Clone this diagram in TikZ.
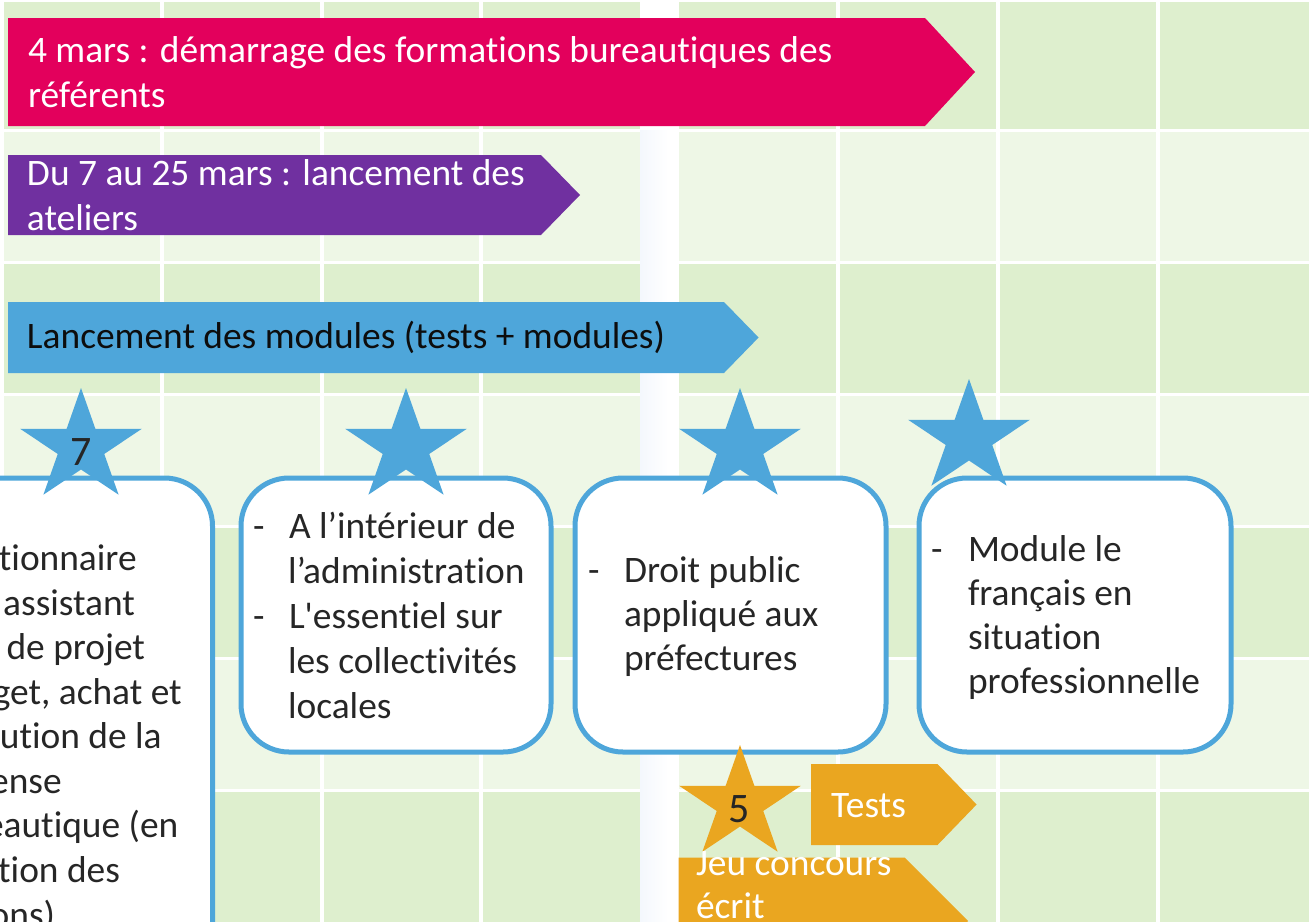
\documentclass[tikz,border=0pt]{standalone}
\usepackage{fontspec}
\newfontfamily\calfont{Carlito}[Ligatures=NoCommon]
\definecolor{pinkc}{HTML}{E3005C}
\definecolor{purplec}{HTML}{7030A0}
\definecolor{bluec}{HTML}{4EA6DA}
\definecolor{orangec}{HTML}{EAA620}
\definecolor{gdark}{HTML}{DEEFCE}
\definecolor{glight}{HTML}{EEF7E6}
\definecolor{txt}{HTML}{262626}
\definecolor{stripe}{HTML}{F4F8FD}
\newcommand{\drawstar}[3]{%
  \fill[#3] (#1,#2) +(0,-59)
    \foreach \a/\rx/\ry in {-54/24.45/22.54, -18/64/59, 18/24.45/22.54, 54/64/59, 90/24.45/22.54, 126/64/59, 162/24.45/22.54, 198/64/59, 234/24.45/22.54}
    { -- +({\rx*cos(\a)},{\ry*sin(\a)}) } -- cycle;}
\begin{document}
\begin{tikzpicture}[x=1pt,y=-1pt,
  lbl/.style={inner sep=0pt, outer sep=0pt, anchor=base west, font=\calfont\fontsize{37.4}{44.5}\selectfont, text=txt},
  lble/.style={lbl, anchor=base east},
  wlbl/.style={lbl, text=white},
  num/.style={inner sep=0pt, outer sep=0pt, anchor=base, font=\calfont\fontsize{42}{50}\selectfont, text=txt},
  modbox/.style={draw=bluec, line width=5pt, fill=white, rounded corners=48pt}]
\useasboundingbox (0,0) rectangle (1309,921);
\fill[white] (0,0) rectangle (1309,921);
% grid background
\foreach \ya/\yb/\c in {2/129/gdark, 132/261/glight, 264/393/gdark, 396/525/glight, 528/657/gdark, 660/789/glight, 792/930/gdark}
  \foreach \xa/\xb in {4/160, 164/320, 324/479, 483/640, 679/836, 840/996, 1000/1156, 1160/1320}
    \fill[\c] (\xa,\yb) rectangle (\xb,\ya);
\shade[left color=stripe, right color=white] (640,130) rectangle (668,921);
% timeline arrows
\fill[pinkc] (8,18) -- (925,18) -- (975,72) -- (925,126) -- (8,126) -- cycle;
\fill[purplec] (8,155) -- (541,155) -- (580,195) -- (541,235) -- (8,235) -- cycle;
\fill[bluec] (8,302) -- (724,302) -- (758.6,337.5) -- (724,373) -- (8,373) -- cycle;
\node[wlbl] (pink1) at (28,62) {4 mars : démarrage des formations bureautiques des};
\node[wlbl] (pink2) at (28,107) {référents};
\node[wlbl] (purp1) at (27,185) {Du 7 au 25 mars : lancement des};
\node[wlbl] (purp2) at (27,230) {ateliers};
\node[lbl, text=black!95] (blue1) at (27,348) {Lancement des modules (tests + modules)};
% module boxes
\draw[modbox] (-100,478) rectangle (212.5,1000);
\draw[modbox] (241,478) rectangle (551,752);
\draw[modbox] (575,478) rectangle (886,752);
\draw[modbox] (919,478) rectangle (1231,752);
% stars
\drawstar{81}{447}{bluec}
\drawstar{406}{447}{bluec}
\drawstar{740}{447}{bluec}
\drawstar{969}{438}{bluec}
\drawstar{740}{804}{orangec}
\node[num] (n7) at (81,465) {7};
\node[num] (n5) at (739,822) {5};
% box 1 text (cut by the left edge)
\node[lble] (b1l1) at (136.7,570) {tionnaire};
\node[lble] (b1l2) at (135,615) {assistant};
\node[lble] (b1l3) at (145,659) {de projet};
\node[lble] (b1l4) at (181.7,704) {get, achat et};
\node[lble] (b1l5) at (161.7,748) {cution de la};
\node[lble] (b1l6) at (61.7,793) {ense};
\node[lble] (b1l7) at (178.3,837) {eautique (en};
\node[lble] (b1l8) at (120,882) {tion des};
\node[lble] (b1l9) at (55,927) {ons)};
% box 2 text
\node[lbl] (b2d1) at (253,538) {-};
\node[lbl] (b2l1) at (289,538) {A l’intérieur de};
\node[lbl] (b2l2) at (288,583) {l’administration};
\node[lbl] (b2d2) at (253,628) {-};
\node[lbl] (b2l3) at (289,628) {L'essentiel sur};
\node[lbl] (b2l4) at (288,673) {les collectivités};
\node[lbl] (b2l5) at (288,718) {locales};
% box 3 text
\node[lbl] (b3d1) at (588,582) {-};
\node[lbl] (b3l1) at (624,582) {Droit public};
\node[lbl] (b3l2) at (624,626) {appliqué aux};
\node[lbl] (b3l3) at (624,670) {préfectures};
% box 4 text
\node[lbl] (b4d1) at (931,561.5) {-};
\node[lbl] (b4l1) at (968,561.5) {Module le};
\node[lbl] (b4l2) at (968,605.5) {français en};
\node[lbl] (b4l3) at (968,649.5) {situation};
\node[lbl] (b4l4) at (968,693.5) {professionnelle};
% orange arrows
\fill[orangec] (811,764) -- (937.5,764) -- (976.6,804.5) -- (937.5,845) -- (811,845) -- cycle;
\fill[orangec] (678.6,857.5) -- (904.6,857.5) -- (968,921) -- (904.6,984) -- (678.6,984) -- cycle;
\node[wlbl] (tests) at (831,817) {Tests};
\node[wlbl] (jeu1) at (696,875) {Jeu concours};
\node[wlbl] (jeu2) at (696,918) {écrit};
\end{tikzpicture}
\end{document}
